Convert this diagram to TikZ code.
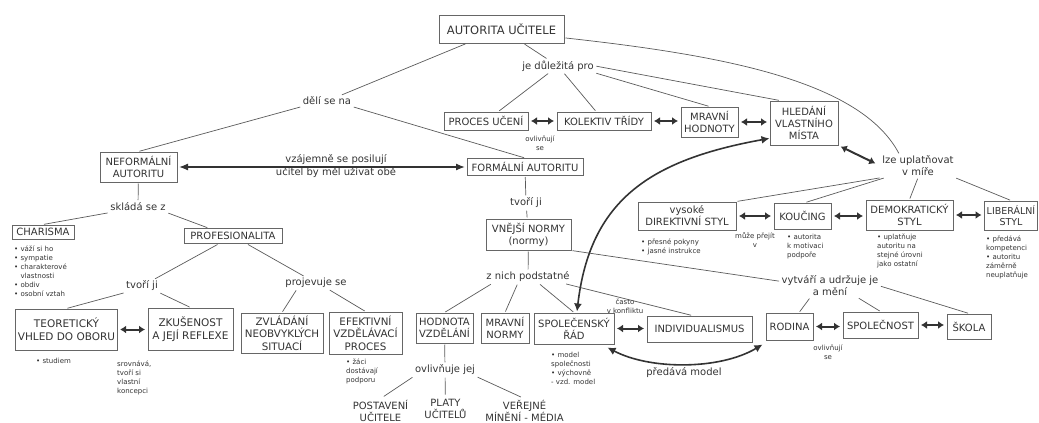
\documentclass[tikz,border=0pt]{standalone}
\usepackage{fontspec}
\setmainfont{DejaVu Sans}
\usetikzlibrary{arrows.meta,calc}

\definecolor{ink}{HTML}{333333}
\definecolor{edge}{HTML}{5A5A5A}
\definecolor{frame}{HTML}{666666}

\tikzset{
  concept/.style={draw=frame, line width=1pt, fill=white, text=ink, align=center,
    inner sep=2pt, font=\fontsize{10}{12}\selectfont},
  phrase/.style={text=ink, align=center, inner sep=1.5pt, font=\fontsize{10}{12}\selectfont},
  remark/.style={text=ink, align=left, inner sep=0pt, anchor=north west,
    font=\fontsize{7}{9}\selectfont},
  tinylabel/.style={text=ink, align=center, inner sep=0pt, font=\fontsize{7}{9}\selectfont},
  link/.style={draw=edge, line width=0.7pt, shorten <=1pt, shorten >=1pt},
  twoway/.style={draw=ink, line width=2pt,
    {Latex[length=6pt,width=8pt]}-{Latex[length=6pt,width=8pt]},
    shorten <=2.5pt, shorten >=2.5pt},
  longway/.style={draw=ink, line width=1.3pt,
    {Latex[length=9pt,width=7pt]}-{Latex[length=9pt,width=7pt]},
    shorten <=1.5pt, shorten >=1.5pt},
  bendway/.style={draw=ink, line width=1.6pt,
    {Latex[length=8pt,width=8pt]}-{Latex[length=8pt,width=8pt]}},
}

\begin{document}
\begin{tikzpicture}[x=1pt, y=-1pt]
\clip (0,0) rectangle (1039,423);
\useasboundingbox (0,0) rectangle (1039,423);

% ---------- top level ----------
\node[concept, font=\fontsize{11.5}{13}\selectfont, minimum width=125pt, minimum height=28pt]
  (root) at (501.5,29) {AUTORITA UČITELE};
\node[phrase] (jdp) at (558,66) {je důležitá pro};
\node[phrase] (dsn) at (327,101) {dělí se na};

% ---------- what authority matters for ----------
\node[concept, minimum width=84pt, minimum height=18pt] (proces) at (486,121) {PROCES UČENÍ};
\node[concept, minimum width=94pt, minimum height=18pt] (kolektiv) at (604,121) {KOLEKTIV TŘÍDY};
\node[tinylabel] (ovse1) at (540,143) {ovlivňují\\se};
\node[concept, minimum width=57pt, minimum height=30pt] (mravH) at (709.5,122) {MRAVNÍ\\HODNOTY};
\node[concept, minimum width=68pt, minimum height=44pt] (hledani) at (804,123) {HLEDÁNÍ\\VLASTNÍHO\\MÍSTA};
\node[phrase] (lze) at (918,166) {lze uplatňovat\\v míře};

% ---------- informal / formal ----------
\node[concept, minimum width=77pt, minimum height=30pt] (neform) at (138.5,167) {NEFORMÁLNÍ\\AUTORITU};
\node[phrase, font=\fontsize{10}{13}\selectfont] (vzaj) at (336,166) {vzájemně se posilují\\učitel by měl užívat obě};
\node[concept, minimum width=116pt, minimum height=17pt] (form) at (525,167) {FORMÁLNÍ AUTORITU};
\node[phrase] (tvori2) at (526,203) {tvoří ji};
\node[concept, minimum width=85pt, minimum height=31pt] (vnejsi) at (528.5,234.5) {VNĚJŠÍ NORMY\\(normy)};
\node[phrase] (znich) at (528,277) {z nich podstatné};

% ---------- informal branch ----------
\node[phrase] (sklada) at (138,207) {skládá se z};
\node[concept, minimum width=62pt, minimum height=14pt, inner sep=1.5pt] (charisma) at (43,232) {CHARISMA};
\node[remark] (charnote) at (14,245.5) {• váží si ho\\• sympatie\\• charakterové\\\phantom{• }vlastnosti\\• obdiv\\• osobní vztah};
\node[concept, minimum width=98pt, minimum height=15pt, inner sep=1.5pt] (profes) at (233,236) {PROFESIONALITA};
\node[phrase] (tvori1) at (142,286) {tvoří ji};
\node[phrase] (projev) at (316,283) {projevuje se};
\node[concept, font=\fontsize{10.5}{13}\selectfont, minimum width=101pt, minimum height=41pt]
  (teoret) at (66.5,329.5) {TEORETICKÝ\\VHLED DO OBORU};
\node[concept, font=\fontsize{10.5}{13}\selectfont, minimum width=85pt, minimum height=42pt]
  (zkus) at (190.5,329) {ZKUŠENOST\\A JEJÍ REFLEXE};
\node[remark] (studnote) at (36,357.5) {• studiem};
\node[remark] (srovnote) at (117,360.5) {srovnává,\\tvoří si\\vlastní\\koncepci};
\node[concept, font=\fontsize{10.3}{12.5}\selectfont, minimum width=82pt, minimum height=40pt]
  (zvlad) at (282,333) {ZVLÁDÁNÍ\\NEOBVYKLÝCH\\SITUACÍ};
\node[concept, font=\fontsize{10.3}{12.5}\selectfont, minimum width=73pt, minimum height=42pt]
  (efekt) at (365.5,333) {EFEKTIVNÍ\\VZDĚLÁVACÍ\\PROCES};
\node[remark] (zacinote) at (346,358.5) {• žáci\\dostávají\\podporu};

% ---------- norms ----------
\node[concept, minimum width=57pt, minimum height=30pt] (hodnota) at (444.5,328) {HODNOTA\\VZDĚLÁNÍ};
\node[concept, minimum width=48pt, minimum height=30pt] (mravN) at (505,328) {MRAVNÍ\\NORMY};
\node[concept, minimum width=80pt, minimum height=31pt] (spolrad) at (574,328.5) {SPOLEČENSKÝ\\ŘÁD};
\node[remark] (spolnote) at (551,351.5) {• model\\společnosti\\• výchovně\\- vzd. model};
\node[phrase] (ovlj) at (445,370) {ovlivňuje jej};
\node[phrase] (postav) at (380.5,411) {POSTAVENÍ\\UČITELE};
\node[phrase] (platy) at (445.5,409) {PLATY\\UČITELŮ};
\node[phrase] (verejne) at (524.5,411) {VEŘEJNÉ\\MÍNĚNÍ - MÉDIA};
\node[tinylabel] (casto) at (625,306.5) {často\\v konfliktu};
\node[concept, minimum width=105pt, minimum height=26pt] (indiv) at (699.5,329) {INDIVIDUALISMUS};
\node[phrase] (predava) at (684,373) {předává model};

% ---------- who shapes the norms ----------
\node[phrase] (vytvari) at (830,286) {vytváří a udržuje je\\a mění};
\node[concept, minimum width=47pt, minimum height=27pt] (rodina) at (789.5,326.5) {RODINA};
\node[concept, minimum width=75pt, minimum height=26pt] (spolecnost) at (880.5,325) {SPOLEČNOST};
\node[concept, minimum width=44pt, minimum height=25pt] (skola) at (969,326.5) {ŠKOLA};
\node[tinylabel] (ovse2) at (828,352.5) {ovlivňují\\se};

% ---------- styles ----------
\node[concept, minimum width=98pt, minimum height=28pt] (direkt) at (687,216) {vysoké\\DIREKTIVNÍ STYL};
\node[concept, minimum width=57pt, minimum height=26pt] (koucing) at (802.5,216) {KOUČING};
\node[concept, minimum width=87pt, minimum height=30pt] (demokr) at (909.5,215) {DEMOKRATICKÝ\\STYL};
\node[concept, font=\fontsize{9.5}{11.5}\selectfont, minimum width=53pt, minimum height=29pt,
  inner sep=1.5pt] (liberal) at (1011,215.5) {LIBERÁLNÍ\\STYL};
\node[tinylabel] (muze) at (755,240.5) {může přejít\\v};
\node[remark] (direktnote) at (641,238.5) {• přesné pokyny\\• jasné instrukce};
\node[remark] (koucnote) at (787,233.5) {• autorita\\k motivaci\\podpoře};
\node[remark] (demonote) at (877,233.5) {• uplatňuje\\autoritu na\\stejné úrovni\\jako ostatní};
\node[remark] (libnote) at (986,235.5) {• předává\\kompetenci\\• autoritu\\záměrně\\neuplatňuje};

% ---------- plain connectors ----------
\draw[link] (root) -- (jdp);
\draw[link] (root) -- (dsn);
\draw[link] (jdp) -- (proces);
\draw[link] (jdp) -- (kolektiv);
\draw[link] (jdp.south east) -- (mravH.north);
\draw[link] (jdp.east) -- ($(hledani.north west)!0.15!(hledani.north east)$);
\draw[link] (root.-8) .. controls (720,55) and (860,80) .. ($(lze.north west)!0.25!(lze.north east)$);

\draw[link] (dsn.south west) -- (neform.north);
\draw[link] (dsn.south east) -- (form.north);
\draw[link] (neform) -- (sklada);
\draw[link] (sklada.south west) -- (charisma.north);
\draw[link] (sklada.south east) -- ($(profes.north west)!0.25!(profes.north east)$);
\draw[link] (profes) -- (tvori1);
\draw[link] (profes) -- (projev);
\draw[link] (tvori1.south west) -- (teoret.north);
\draw[link] (tvori1.south east) -- (zkus.north);
\draw[link] ($(projev.south west)!0.2!(projev.south east)$) -- (zvlad.north);
\draw[link] ($(projev.south west)!0.7!(projev.south east)$) -- (efekt.north);

\draw[link] (form) -- (tvori2);
\draw[link] (tvori2) -- (vnejsi);
\draw[link] (vnejsi) -- (znich);
\draw[link] ($(znich.south west)!0.08!(znich.south east)$) -- (hodnota.north);
\draw[link] ($(znich.south west)!0.38!(znich.south east)$) -- (mravN.north);
\draw[link] ($(znich.south west)!0.63!(znich.south east)$) -- (spolrad.north);
\draw[link] ($(znich.south west)!0.93!(znich.south east)$) -- ($(indiv.north west)!0.43!(indiv.north east)$);
\draw[link] (vnejsi.south east) -- ($(vytvari.north west)!0.3!(vytvari.south west)$);

\draw[link] (hodnota) -- (ovlj);
\draw[link, shorten >=4pt] (ovlj.south west) -- (postav.north);
\draw[link, shorten >=3pt] (ovlj) -- (platy);
\draw[link, shorten >=4pt] (ovlj.south east) -- (verejne.north);

\draw[link] ($(vytvari.south west)!0.3!(vytvari.south east)$) -- ($(rodina.north west)!0.7!(rodina.north east)$);
\draw[link] ($(vytvari.south west)!0.78!(vytvari.south east)$) -- (spolecnost.north);
\draw[link] (vytvari.east) -- (skola.north);

\draw[link] (lze.south west) -- (direkt.north east);
\draw[link] ($(lze.south west)+(4,0)$) -- ($(koucing.north)+(3,0)$);
\draw[link] (lze.south) -- (demokr.north);
\draw[link] (lze.south east) -- (liberal.north);

% ---------- two-way arrows ----------
\draw[twoway] (proces.east) -- (proces.east -| kolektiv.west);
\draw[twoway] (kolektiv.east) -- (kolektiv.east -| mravH.west);
\draw[twoway] (mravH.east) -- (mravH.east -| hledani.west);
\draw[twoway, shorten >=6pt] (hledani.south east) -- (lze.west);
\draw[longway] (neform.east) -- (neform.east -| form.west);
\draw[twoway] (teoret.east) -- (teoret.east -| zkus.west);
\draw[twoway] (spolrad.east) -- (spolrad.east -| indiv.west);
\draw[twoway] (rodina.east) -- (rodina.east -| spolecnost.west);
\draw[twoway] (spolecnost.east) -- (spolecnost.east -| skola.west);
\draw[twoway] (direkt.east) -- (direkt.east -| koucing.west);
\draw[twoway] (koucing.east) -- (koucing.east -| demokr.west);
\draw[twoway] (demokr.east) -- (demokr.east -| liberal.west);

% ---------- curved arrows ----------
\draw[bendway] (hledani.204) .. controls (650,160) and (590,200) .. ($(spolrad.north)+(3,-1)$);
\draw[bendway] ($(spolrad.south east)+(-7,3)$) .. controls (650,370) and (720,370) .. ($(rodina.south west)+(-3,4)$);

\end{tikzpicture}
\end{document}
